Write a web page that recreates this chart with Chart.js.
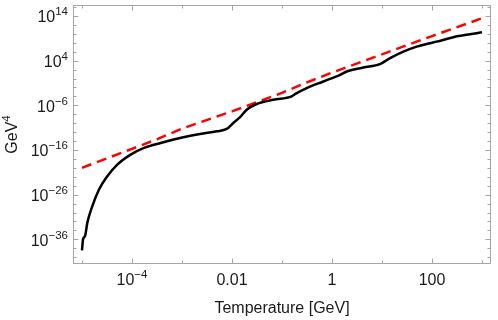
<!DOCTYPE html>
<html>
<head>
<meta charset="utf-8">
<script src="https://cdn.jsdelivr.net/npm/chart.js@4.4.0/dist/chart.umd.min.js"></script>
<style>
  html, body { margin: 0; padding: 0; background: #fff; }
  canvas { display: block; }
</style>
</head>
<body>
<canvas id="chart" width="498" height="320"></canvas>
<script>
/* Energy density vs temperature, log-log */

// black curve
const blackT = [1e-5, 1.05e-5, 1.15e-5, 1.28e-5, 1.61e-5, 2.19e-5, 3.21e-5, 5.08e-5, 9.4e-5, 1.74e-4,
  3.75e-4, 1.06e-3, 2.29e-3, 4.94e-3, 7.83e-3, 1.06e-2, 1.45e-2, 1.97e-2, 3.12e-2, 6.7e-2,
  0.156, 0.182, 0.312, 0.67, 1.45, 1.97, 4.23, 9.1, 14.5, 26.7,
  49.4, 91, 124, 267, 575, 1000];
const blackE = [3.5e-39, 1e-36, 5.5e-36, 5.4e-33, 2.7e-29, 1.45e-25, 1.35e-22, 5.5e-20, 9.3e-18, 2.95e-16,
  3.8e-15, 6.8e-14, 3.9e-13, 1.48e-12, 5.1e-12, 1.12e-10, 2.2e-9, 1.05e-7, 1.95e-6, 1.78e-5,
  9.8e-5, 3.3e-4, 7.2e-3, 0.214, 6.8, 37, 290, 1660, 3.6e4, 1.07e6,
  1.41e7, 8.1e7, 1.8e8, 1.78e9, 8.3e9, 2.2e10];

// red dashed curve
const redT = [1e-5, 1e-4, 3e-4, 1e-3, 1e-2, 0.1, 0.16, 0.3, 1, 10, 100, 1000];
const redE = [1e-20, 1.8e-16, 2e-14, 6e-12, 4.5e-8, 6e-4, 5.5e-3, 0.11, 21, 2.6e5, 3.2e9, 3.2e13];

// ticks
const xMajor = [1e-4, 1e-2, 1, 100];
const xLabels = ['10^\u22124', '0.01', '1', '100'];
const xMinor = [1e-5, 1e-3, 0.1, 10, 1000];
const yMajor = [1e-36, 1e-26, 1e-16, 1e-6, 1e4, 1e14];
const yLabels = ['10^\u221236', '10^\u221226', '10^\u221216', '10^\u22126', '10^4', '10^14'];
const yMinor = [];
for (let e = -40; e <= 16; e += 2) if ((e + 36) % 10 !== 0) yMinor.push(Math.pow(10, e));

const X_MIN = Math.pow(10, -5.18), X_MAX = Math.pow(10, 3.18);
const Y_MIN = Math.pow(10, -41.53), Y_MAX = Math.pow(10, 16.46);

const FONT = '"Liberation Sans", Arial, sans-serif';
const FRAME = '#a6a6a6';
const TEXT = '#1a1a1a';

function powText(ctx, text, x, y, align, size, supSize, rise) {
  const [base, sup] = text.split('^');
  ctx.font = `${size}px ${FONT}`;
  const wb = ctx.measureText(base).width;
  let ws = 0;
  if (sup) { ctx.font = `${supSize}px ${FONT}`; ws = ctx.measureText(sup).width; }
  const w = wb + ws;
  const x0 = align === 'right' ? x - w : align === 'center' ? x - w / 2 : x;
  ctx.textAlign = 'left';
  ctx.textBaseline = 'alphabetic';
  ctx.font = `${size}px ${FONT}`;
  ctx.fillText(base, x0, y);
  if (sup) { ctx.font = `${supSize}px ${FONT}`; ctx.fillText(sup, x0 + wb, y - rise); }
}

const framePlugin = {
  id: 'frame',
  afterDraw(chart) {
    const { ctx, chartArea: a, scales: { x, y } } = chart;
    const L = a.left + .5, R = a.right - .5, T = a.top + .5, B = a.bottom - .5;
    ctx.save();
    ctx.strokeStyle = FRAME;
    ctx.lineWidth = 1;
    ctx.strokeRect(L, T, R - L, B - T);

    ctx.beginPath();
    const xt = (v, len) => {
      const p = Math.round(x.getPixelForValue(v)) + .5;
      ctx.moveTo(p, B); ctx.lineTo(p, B - len);
      ctx.moveTo(p, T); ctx.lineTo(p, T + len);
    };
    const yt = (v, len) => {
      const p = Math.round(y.getPixelForValue(v)) + .5;
      ctx.moveTo(L, p); ctx.lineTo(L + len, p);
      ctx.moveTo(R, p); ctx.lineTo(R - len, p);
    };
    xMajor.forEach(v => xt(v, 5));
    xMinor.forEach(v => xt(v, 3));
    yMajor.forEach(v => yt(v, 5));
    yMinor.forEach(v => yt(v, 3));
    ctx.stroke();

    ctx.fillStyle = TEXT;
    xMajor.forEach((v, i) => powText(ctx, xLabels[i], x.getPixelForValue(v), 284.5, 'center', 16, 11.5, 7));
    yMajor.forEach((v, i) => powText(ctx, yLabels[i], 68, y.getPixelForValue(v) + 6.5, 'right', 16, 11.5, 7));

    powText(ctx, 'Temperature [GeV]', (a.left + a.right) / 2, 313, 'center', 16, 11.5, 7);
    ctx.translate(17, (a.top + a.bottom) / 2);
    ctx.rotate(-Math.PI / 2);
    powText(ctx, 'GeV^4', 0, 0, 'center', 16, 11.5, 7);
    ctx.restore();
  }
};

new Chart(document.getElementById('chart').getContext('2d'), {
  type: 'line',
  data: {
    datasets: [
      {
        data: blackT.map((t, i) => ({ x: t, y: blackE[i] })),
        borderColor: '#000',
        borderWidth: 2.5,
        pointRadius: 0,
        cubicInterpolationMode: 'monotone'
      },
      {
        data: redT.map((t, i) => ({ x: t, y: redE[i] })),
        borderColor: '#ff0000',
        borderWidth: 2.5,
        borderDash: [10, 6],
        pointRadius: 0,
        tension: 0
      }
    ]
  },
  options: {
    responsive: false,
    animation: false,
    devicePixelRatio: 1,
    layout: { padding: { left: 0, right: 7, top: 5, bottom: 0 } },
    plugins: { legend: { display: false }, tooltip: { enabled: false } },
    scales: {
      x: {
        type: 'logarithmic', min: X_MIN, max: X_MAX, bounds: 'data',
        ticks: { display: false }, grid: { display: false }, border: { display: false },
        afterBuildTicks: s => { s.ticks = xMajor.map(v => ({ value: v })); },
        afterFit: s => { s.height = 56; }
      },
      y: {
        type: 'logarithmic', min: Y_MIN, max: Y_MAX, bounds: 'data',
        ticks: { display: false }, grid: { display: false }, border: { display: false },
        afterBuildTicks: s => { s.ticks = yMajor.map(v => ({ value: v })); },
        afterFit: s => { s.width = 73; }
      }
    }
  },
  plugins: [framePlugin]
});
</script>
</body>
</html>
